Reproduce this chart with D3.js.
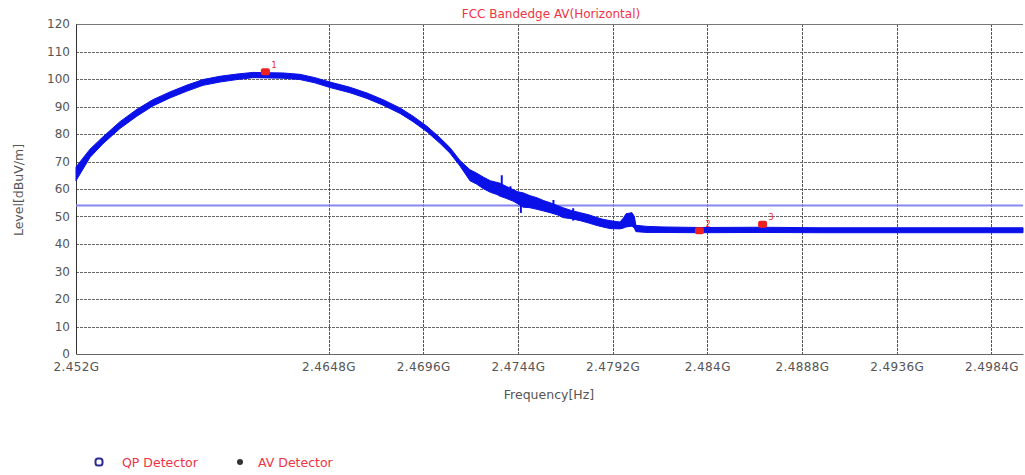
<!DOCTYPE html>
<html><head><meta charset="utf-8">
<script src="https://cdn.jsdelivr.net/npm/d3@7"></script>
<style>
html,body{margin:0;padding:0;background:#fff;}
svg{display:block;font-family:"DejaVu Sans",sans-serif;}
</style></head>
<body><svg id="c" width="1025" height="475"></svg>
<script>
// ---- data ----
const freqGHz = [2.45200,2.45271,2.45337,2.45423,2.45509,2.45590,2.45676,2.45763,2.45844,2.45930,
  2.46016,2.46097,2.46168,2.46249,2.46335,2.46411,2.46487,2.46589,2.46675,2.46756,
  2.46842,2.46908,2.46979,2.47045,2.47096,2.47146,2.47197,2.47230,2.47263,2.47300,
  2.47334,2.47349,2.47380,2.47415,2.47440,2.47466,2.47500,2.47537,2.47570,2.47603,
  2.47640,2.47668,2.47710,2.47755,2.47800,2.47841,2.47870,2.47907,2.47957,2.47975,
  2.47988,2.48018,2.48030,2.48038,2.48094,2.48175,2.48363,2.48667,2.48971,2.49275,
  2.49579,2.49883,2.50000];
const levelLow = [63.0,71.5,76.5,82.0,86.5,90.2,93.1,95.6,97.7,98.9,
  99.8,100.5,100.4,100.3,99.8,98.6,96.9,95.0,92.9,90.5,
  87.5,84.5,80.8,76.6,73.0,68.4,63.0,61.8,60.2,58.8,
  58.0,57.4,56.6,55.6,54.6,53.4,53.2,52.6,52.0,51.4,
  50.6,49.6,49.2,48.5,47.6,46.7,46.2,45.6,45.5,45.8,
  46.2,46.5,45.8,44.5,44.2,44.2,44.1,44.2,44.1,44.1,
  44.1,44.1,44.1];
const levelHigh = [68.0,74.5,79.0,84.5,89.0,92.5,95.3,97.8,99.8,101.0,
  101.8,102.4,102.3,102.2,101.7,100.5,98.9,97.0,94.9,92.5,
  89.5,86.5,82.8,78.6,75.0,70.4,67.0,65.8,64.4,63.0,
  62.4,62.1,61.0,59.8,59.0,58.6,57.6,56.8,55.8,55.0,
  54.0,53.2,52.2,51.4,50.6,49.6,49.0,48.5,48.0,49.5,
  51.0,51.4,50.0,46.8,46.4,46.2,46.0,46.1,45.9,45.9,
  45.9,45.9,45.9];
// isolated spikes in the trace
const spikeFreq = [2.47358, 2.47402, 2.47455, 2.47620, 2.47720];
const spikeLow  = [60.0, 57.0, 51.3, 51.0, 48.5];
const spikeHigh = [65.0, 61.0, 56.0, 56.0, 53.0];
const limitLevel = [54];
const markerFreq  = [2.4616, 2.4836, 2.4868];
const markerLevel = [102.6, 44.8, 47.2];
const markerLabel = ["1", "2", "3"];
const xTicks = [2.452, 2.4648, 2.4696, 2.4744, 2.4792, 2.484, 2.4888, 2.4936, 2.4984];
const xTickLabels = ["2.452G","2.4648G","2.4696G","2.4744G","2.4792G","2.484G","2.4888G","2.4936G","2.4984G"];
const yTicks = [0,10,20,30,40,50,60,70,80,90,100,110,120];
const titleText = "FCC Bandedge AV(Horizontal)";
const xTitle = "Frequency[Hz]";
const yTitle = "Level[dBuV/m]";
const legendNames = ["QP Detector", "AV Detector"];

// ---- drawing ----
const svg = d3.select("#c");
const x = d3.scaleLinear().domain([2.452, 2.5]).range([76, 1023]);
const y = d3.scaleLinear().domain([0, 120]).range([354, 24]);
const textGray = "#555";
const red = "#ee3344";
const traceBlue = "#0a10e8";

// horizontal grid
svg.append("g").selectAll("line").data(yTicks.filter(d => d > 0 && d < 120)).join("line")
  .attr("x1", x(2.452)).attr("x2", x(2.5))
  .attr("y1", d => Math.round(y(d)) + 0.5).attr("y2", d => Math.round(y(d)) + 0.5)
  .attr("stroke", "#666").attr("stroke-width", 1).attr("stroke-dasharray", "3,1");
// vertical grid
svg.append("g").selectAll("line").data(xTicks.slice(1)).join("line")
  .attr("x1", d => Math.round(x(d)) + 0.5).attr("x2", d => Math.round(x(d)) + 0.5)
  .attr("y1", y(120)).attr("y2", y(0))
  .attr("stroke", "#555").attr("stroke-width", 1).attr("stroke-dasharray", "3,1");
// top border
svg.append("line").attr("x1", x(2.452)).attr("x2", x(2.5)).attr("y1", y(120) + 0.5).attr("y2", y(120) + 0.5)
  .attr("stroke", "#777").attr("stroke-width", 1);

// axes
const yAxis = d3.axisLeft(y).tickValues(yTicks).tickSize(0).tickPadding(6);
const gy = svg.append("g").attr("transform", `translate(${x(2.452)},0)`).call(yAxis);
gy.select(".domain").attr("stroke", "#333");
gy.selectAll("text").attr("font-size", 12).attr("fill", textGray).attr("font-family", "DejaVu Sans");

const xAxis = d3.axisBottom(x).tickValues(xTicks).tickFormat((d, i) => xTickLabels[i]).tickSize(0).tickPadding(8);
const gx = svg.append("g").attr("transform", `translate(0,${y(0)})`).call(xAxis);
gx.select(".domain").attr("stroke", "#666");
gx.selectAll("text").attr("font-size", 12).attr("fill", textGray).attr("font-family", "DejaVu Sans")
  .attr("letter-spacing", "0.4px");

// limit line
svg.append("g").selectAll("line").data(limitLevel).join("line")
  .attr("x1", x(2.452)).attr("x2", x(2.5))
  .attr("y1", d => y(d)).attr("y2", d => y(d))
  .attr("stroke", "#8888f0").attr("stroke-width", 2);

// trace envelope
const pts = freqGHz.map((f, i) => ({f, lo: levelLow[i], hi: levelHigh[i]}));
svg.append("path").datum(pts)
  .attr("d", d3.area().x(d => x(d.f)).y0(d => y(d.lo)).y1(d => y(d.hi)))
  .attr("fill", traceBlue).attr("stroke", traceBlue).attr("stroke-width", 1)
  .attr("stroke-linejoin", "round");
svg.append("g").selectAll("line").data(spikeFreq.map((f, i) => ({f, lo: spikeLow[i], hi: spikeHigh[i]}))).join("line")
  .attr("x1", d => x(d.f)).attr("x2", d => x(d.f))
  .attr("y1", d => y(d.lo)).attr("y2", d => y(d.hi))
  .attr("stroke", traceBlue).attr("stroke-width", 2);

// markers
const mk = svg.append("g").selectAll("g").data(markerFreq.map((f, i) => ({f, l: markerLevel[i], t: markerLabel[i]}))).join("g")
  .attr("transform", d => `translate(${x(d.f)},${y(d.l)})`);
mk.append("rect").attr("x", -4.5).attr("y", -3.5).attr("width", 9).attr("height", 7).attr("rx", 2)
  .attr("fill", "#f02020");
mk.append("text").attr("x", 6).attr("y", -4).text(d => d.t)
  .attr("font-size", 8).attr("fill", "#f02020");

// titles
svg.append("text").attr("x", 551).attr("y", 18).attr("text-anchor", "middle")
  .attr("font-size", 12).attr("fill", red).text(titleText);
svg.append("text").attr("x", 549).attr("y", 399).attr("text-anchor", "middle")
  .attr("font-size", 12.5).attr("fill", textGray).text(xTitle);
svg.append("text").attr("transform", "translate(23,190) rotate(-90)").attr("text-anchor", "middle")
  .attr("font-size", 12.5).attr("fill", textGray).text(yTitle);

// legend
const lg = svg.append("g");
lg.append("rect").attr("x", 95.5).attr("y", 458.5).attr("width", 7).attr("height", 7).attr("rx", 2.5)
  .attr("fill", "none").attr("stroke", "#2a2a90").attr("stroke-width", 2);
lg.append("text").attr("x", 122).attr("y", 467).attr("font-size", 12.5).attr("fill", red).text(legendNames[0]);
lg.append("circle").attr("cx", 240).attr("cy", 462).attr("r", 3).attr("fill", "#333");
lg.append("text").attr("x", 258).attr("y", 467).attr("font-size", 12.5).attr("fill", red).text(legendNames[1]);
</script></body></html>
